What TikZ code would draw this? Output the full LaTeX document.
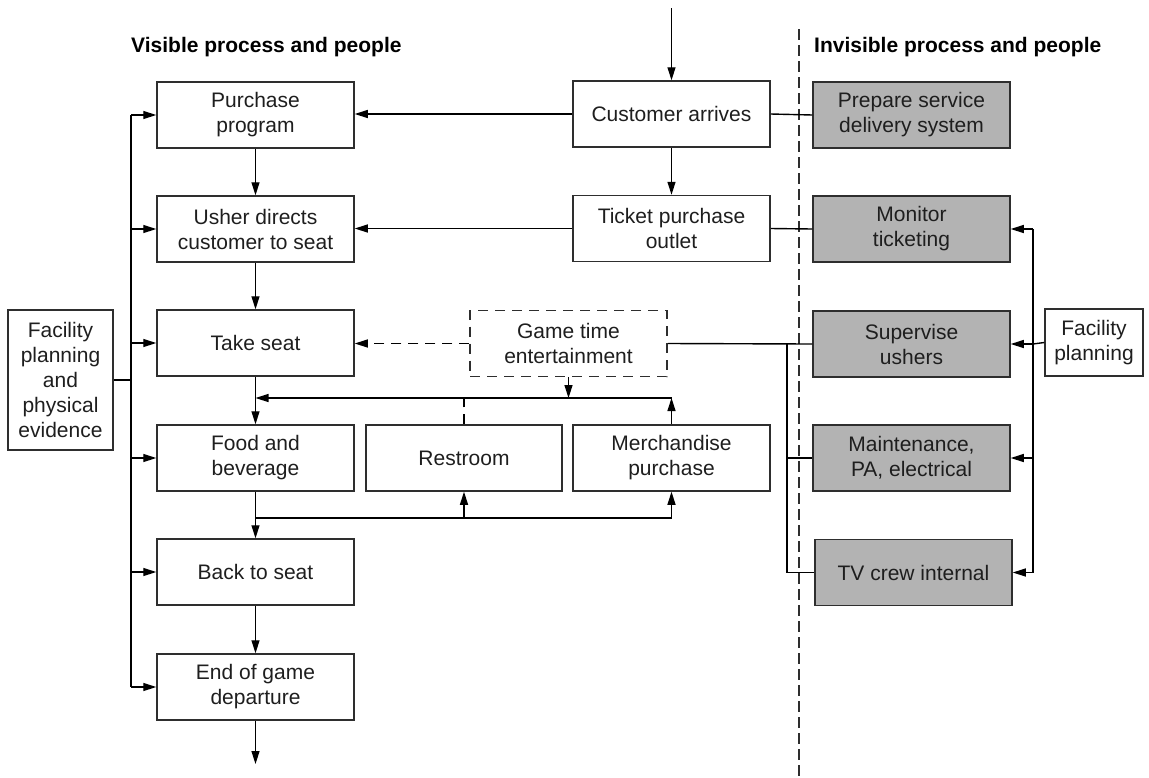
\documentclass[tikz,border=0pt]{standalone}
\usepackage{fontspec}
\setmainfont{Liberation Sans}
\usetikzlibrary{arrows.meta,calc}

\definecolor{edge}{HTML}{2E2E2E}
\definecolor{shade}{HTML}{B3B3B3}
\definecolor{ink}{HTML}{1E1E1E}

\tikzset{
  box/.style={draw=edge, line width=1.5pt, minimum width=197pt, minimum height=66pt,
    align=center, text=ink, font=\fontsize{21}{25}\selectfont, inner sep=0pt},
  hidden/.style={box, fill=shade},
  dashbox/.style={box, dash pattern=on 10pt off 7pt},
  conn/.style={draw=black, line width=1.4pt},
  arr/.style={conn, -{Triangle[length=13pt,width=8pt]}},
  header/.style={font=\fontsize{21}{25}\selectfont\bfseries, anchor=base west, inner sep=0pt},
  divider/.style={draw=edge, line width=1.4pt, dash pattern=on 11pt off 5pt}
}

\begin{document}
\begin{tikzpicture}[x=1pt,y=-1pt]
\useasboundingbox (0,0) rectangle (1149,777);

% column headings and the line of visibility
\node[header] (hv) at (131,52) {Visible process and people};
\node[header] (hi) at (814,52) {Invisible process and people};
\coordinate (dtop) at (799,29);
\coordinate (dbot) at (799,777);
\path[divider] (dtop) -- (dbot);

% visible process, left column
\node[box] (pp) at (255.5,115) {Purchase\\program};
\node[box] (ud) at (255.5,229) {Usher directs\\customer to seat};
\node[box] (ts) at (255.5,343) {Take seat};
\node[box] (fb) at (255.5,458) {Food and\\beverage};
\node[box] (bs) at (255.5,572) {Back to seat};
\node[box] (eg) at (255.5,687) {End of game\\departure};

% visible process, centre
\node[box] (ca) at (671.5,114) {Customer arrives};
\node[box] (tp) at (671.5,228.5) {Ticket purchase\\outlet};
\node[dashbox] (gt) at (568.5,343.5) {Game time\\entertainment};
\node[box, minimum width=196pt] (rr) at (464,458) {Restroom};
\node[box] (mp) at (671.5,458) {Merchandise\\purchase};

% physical evidence
\node[box, minimum width=105pt, minimum height=140pt] (fl) at (60.5,380)
  {Facility\\planning\\and\\physical\\evidence};
\node[box, minimum width=98pt, minimum height=67pt] (fr) at (1094,342.5)
  {Facility\\planning};

% invisible process
\node[hidden] (ps) at (911.5,115) {Prepare service\\delivery system};
\node[hidden] (mt) at (911.5,229) {Monitor\\ticketing};
\node[hidden] (su) at (911.5,344) {Supervise\\ushers};
\node[hidden] (ma) at (911.5,458) {Maintenance,\\PA, electrical};
\node[hidden] (tv) at (913.5,572.5) {TV crew internal};

% main flow
\coordinate (in) at (671.5,8);
\coordinate (out) at (255.5,764);
\path[arr] (in) -- (ca.north);
\path[arr] (ca) -- (tp);
\path[arr] (ca.west) -- (ca.west -| pp.east);
\path[arr] (tp.west) -- (tp.west -| ud.east);
\path[arr] (pp) -- (ud);
\path[arr] (ud) -- (ts);
\path[arr] (ts) -- (fb);
\path[arr] (fb) -- (bs);
\path[arr] (bs) -- (eg);
\path[arr] (eg) -- (out);
\path[arr, dash pattern=on 10pt off 7pt] (gt.west) -- (gt.west -| ts.east);

% loop through restroom and merchandise
\coordinate (ly) at (255.5,398);
\coordinate (by) at (255.5,518);
\path[arr] (gt.south) -- (gt.south |- ly);
\path[arr] (mp.north) -- (mp.north |- ly);
\path[arr] (mp.north |- ly) -- (ly);
\path[conn, dash pattern=on 10pt off 7pt] (rr.north) -- (rr.north |- ly);
\path[conn] (by) -- (by -| mp.south);
\path[arr] (by -| rr.south) -- (rr.south);
\path[arr] (by -| mp.south) -- (mp.south);

% links across the line of visibility
\coordinate (sp) at (787,344);
\path[conn] (ca.east) -- (ps.west);
\path[conn] (tp.east) -- (mt.west);
\path[conn] (gt.east) -- (su.west);
\path[conn] (sp) |- (tv.west);
\path[conn] (sp |- ma.west) -- (ma.west);

% facility planning, left spine
\coordinate (ls) at (131,380);
\path[conn] (fl.east) -- (ls);
\path[conn] (ls |- pp.west) -- (ls |- eg.west);
\foreach \n in {pp,ud,ts,fb,bs,eg}
  \path[arr] (ls |- \n.west) -- (\n.west);

% facility planning, right spine
\coordinate (rs) at (1033,344);
\path[conn] (fr.west) -- (rs);
\path[conn] (rs |- mt.east) -- (rs |- tv.east);
\foreach \n in {mt,su,ma,tv}
  \path[arr] (rs |- \n.east) -- (\n.east);
\end{tikzpicture}
\end{document}
